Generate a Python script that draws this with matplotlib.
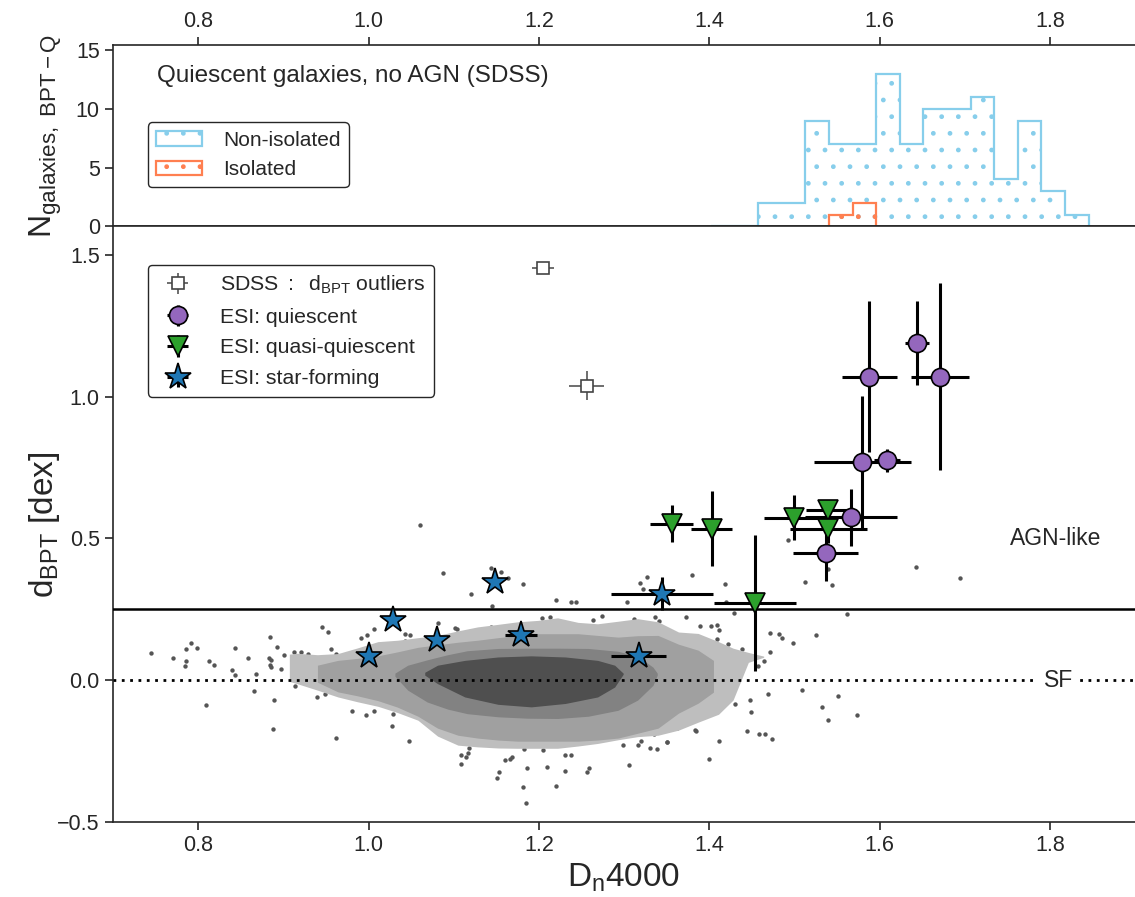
import numpy as np
import matplotlib
matplotlib.use('Agg')
import matplotlib.pyplot as plt

plt.rcParams['font.family'] = ['Liberation Sans', 'DejaVu Sans']
plt.rcParams['mathtext.fontset'] = 'custom'
plt.rcParams['mathtext.rm'] = 'Liberation Sans'
plt.rcParams['mathtext.it'] = 'Liberation Sans:italic'
plt.rcParams['mathtext.default'] = 'regular'
plt.rcParams['text.color'] = '#262626'
plt.rcParams['axes.labelcolor'] = '#262626'
plt.rcParams['xtick.color'] = '#262626'
plt.rcParams['ytick.color'] = '#262626'
plt.rcParams['axes.edgecolor'] = '#262626'

# --- histogram of quiescent SDSS galaxies (no AGN) ---
hist_edges = [1.4020, 1.4297, 1.4575, 1.4852, 1.5129, 1.5407, 1.5684, 1.5961, 1.6238,
              1.6516, 1.6793, 1.7070, 1.7348, 1.7625, 1.7902, 1.8180, 1.8457]
nonisolated_counts = [0, 0, 2, 2, 9, 7, 7, 13, 7, 10, 10, 11, 4, 9, 3, 1]
isolated_edges = [1.5407, 1.5684, 1.5961]
isolated_counts = [1, 2]

# --- ESI samples ---
q_x = [1.537, 1.567, 1.580, 1.609, 1.588, 1.644, 1.671]
q_y = [0.450, 0.575, 0.769, 0.775, 1.070, 1.188, 1.070]
q_xerr = [0.038, 0.054, 0.057, 0.015, 0.032, 0.014, 0.034]
q_yerr = [0.100, 0.100, 0.235, 0.040, 0.266, 0.148, 0.330]

qq_x = [1.356, 1.403, 1.454, 1.500, 1.540, 1.540]
qq_y = [0.552, 0.534, 0.272, 0.573, 0.601, 0.534]
qq_xerr = [0.025, 0.024, 0.048, 0.036, 0.026, 0.045]
qq_yerr = [0.065, 0.132, 0.240, 0.080, 0.030, 0.050]

sf_x = [1.001, 1.029, 1.080, 1.148, 1.179, 1.317, 1.345]
sf_y = [0.085, 0.214, 0.143, 0.345, 0.160, 0.086, 0.305]
sf_xerr = [0.005, 0.005, 0.005, 0.005, 0.019, 0.032, 0.060]
sf_yerr = [0.010, 0.010, 0.010, 0.010, 0.010, 0.010, 0.059]

# --- SDSS outliers ---
out_x = [1.205, 1.256]
out_y = [1.454, 1.039]
out_xerr = [0.013, 0.021]
out_yerr = [0.018, 0.052]

# --- SDSS individual galaxies outside the density contours ---
sdss_x = [0.744, 0.770, 0.786, 0.791, 0.799, 0.786, 0.785, 0.813, 0.818, 0.809,
          0.843, 0.840, 0.843, 0.858, 0.865, 0.868, 0.884, 0.893, 0.883, 0.885,
          0.884, 0.885, 0.897, 0.889, 0.888, 0.901, 0.913, 0.921, 0.929, 0.914,
          0.945, 0.952, 0.956, 0.962, 0.940, 0.949, 0.962, 0.991, 0.998, 1.007,
          0.981, 0.997, 1.007, 1.028, 1.029, 1.043, 1.043, 1.060, 1.087, 1.120,
          1.144, 1.156, 1.164, 1.181, 1.145, 1.144, 1.081, 1.101, 1.104, 1.049,
          1.220, 1.238, 1.244, 1.204, 1.213, 1.264, 1.274, 1.304, 1.319, 1.327,
          1.322, 1.312, 1.336, 1.341, 1.048, 1.109, 1.109, 1.115, 1.117, 1.118,
          1.151, 1.153, 1.160, 1.166, 1.168, 1.183, 1.186, 1.181, 1.185, 1.205,
          1.210, 1.220, 1.231, 1.231, 1.238, 1.256, 1.259, 1.299, 1.306, 1.316,
          1.320, 1.330, 1.339, 1.335, 1.350, 1.380, 1.419, 1.420, 1.429, 1.373,
          1.389, 1.402, 1.409, 1.411, 1.409, 1.422, 1.438, 1.464, 1.471, 1.457,
          1.471, 1.482, 1.486, 1.498, 1.526, 1.513, 1.493, 1.540, 1.544, 1.562,
          1.643, 1.695, 1.431, 1.430, 1.448, 1.449, 1.469, 1.509, 1.533, 1.551,
          1.540, 1.574, 1.444, 1.458, 1.466, 1.474, 1.412, 1.400, 1.383, 1.385,
          1.362, 1.351]
sdss_y = [0.096, 0.080, 0.109, 0.131, 0.115, 0.067, 0.049, 0.069, 0.052, -0.089,
          0.112, 0.035, 0.019, 0.080, -0.038, 0.021, 0.152, 0.117, 0.077, 0.073,
          0.052, 0.048, 0.040, -0.070, -0.173, 0.089, 0.099, 0.098, 0.094, -0.021,
          0.189, 0.171, 0.110, 0.092, -0.060, -0.050, -0.204, 0.149, 0.161, 0.182,
          -0.108, -0.123, -0.110, -0.162, -0.119, 0.163, 0.137, 0.548, 0.378, 0.304,
          0.395, 0.381, 0.360, 0.340, 0.261, 0.188, 0.203, 0.184, 0.180, 0.160,
          0.283, 0.275, 0.277, 0.221, 0.223, 0.214, 0.225, 0.277, 0.343, 0.365,
          0.320, 0.216, 0.222, 0.210, -0.215, -0.264, -0.297, -0.271, -0.256, -0.238,
          -0.345, -0.323, -0.282, -0.279, -0.270, -0.242, -0.311, -0.378, -0.433, -0.246,
          -0.305, -0.372, -0.265, -0.320, -0.264, -0.324, -0.310, -0.229, -0.298, -0.229,
          -0.216, -0.240, -0.244, -0.191, -0.219, 0.370, 0.339, 0.276, 0.238, 0.223,
          0.190, 0.190, 0.193, 0.177, 0.145, 0.127, 0.109, 0.069, 0.101, 0.049,
          0.167, 0.162, 0.148, 0.130, 0.160, 0.348, 0.493, 0.392, 0.336, 0.232,
          0.401, 0.362, -0.012, -0.085, -0.068, -0.113, -0.050, -0.035, -0.093, -0.057,
          -0.141, -0.122, -0.180, -0.190, -0.188, -0.208, -0.216, -0.279, -0.174, -0.179,
          -0.169, -0.218]

# --- density contour levels of the SDSS sample (outer to inner) ---
lvl1_x = [0.907, 0.916, 0.940, 0.964, 0.987, 1.011, 1.034, 1.058, 1.081, 1.105,
          1.128, 1.152, 1.175, 1.199, 1.222, 1.246, 1.269, 1.293, 1.316, 1.340,
          1.364, 1.387, 1.411, 1.428, 1.446, 1.464]
lvl1_hi = [0.092, 0.095, 0.090, 0.094, 0.114, 0.136, 0.141, 0.150, 0.158, 0.174,
           0.188, 0.197, 0.206, 0.211, 0.220, 0.204, 0.199, 0.208, 0.217, 0.206,
           0.170, 0.165, 0.136, 0.113, 0.098, 0.085]
lvl1_lo = [-0.004, -0.012, -0.035, -0.059, -0.076, -0.092, -0.114, -0.141, -0.197, -0.229,
           -0.235, -0.239, -0.240, -0.240, -0.240, -0.232, -0.223, -0.210, -0.199, -0.194,
           -0.176, -0.148, -0.120, -0.070, 0.063, 0.081]

lvl2_x = [0.940, 0.964, 0.987, 1.011, 1.034, 1.058, 1.081, 1.105, 1.128, 1.152,
          1.175, 1.199, 1.222, 1.246, 1.269, 1.293, 1.316, 1.340, 1.364, 1.387, 1.405]
lvl2_hi = [0.053, 0.070, 0.077, 0.086, 0.100, 0.116, 0.125, 0.134, 0.141, 0.150,
           0.158, 0.164, 0.164, 0.164, 0.158, 0.152, 0.157, 0.158, 0.127, 0.106, 0.070]
lvl2_lo = [-0.007, -0.041, -0.055, -0.072, -0.095, -0.127, -0.169, -0.194, -0.204, -0.211,
           -0.215, -0.215, -0.215, -0.215, -0.211, -0.204, -0.187, -0.169, -0.116, -0.081, -0.042]

lvl3_x = [1.031, 1.046, 1.069, 1.093, 1.116, 1.152, 1.187, 1.222, 1.258, 1.293,
          1.316, 1.334, 1.339]
lvl3_hi = [0.025, 0.053, 0.072, 0.090, 0.104, 0.112, 0.113, 0.113, 0.112, 0.102,
           0.085, 0.046, 0.025]
lvl3_lo = [0.014, -0.035, -0.077, -0.102, -0.118, -0.129, -0.134, -0.135, -0.127, -0.106,
           -0.070, -0.018, 0.018]

lvl4_x = [1.066, 1.081, 1.113, 1.152, 1.191, 1.231, 1.269, 1.289, 1.299]
lvl4_hi = [0.028, 0.053, 0.070, 0.082, 0.086, 0.082, 0.070, 0.053, 0.025]
lvl4_lo = [0.018, -0.012, -0.059, -0.085, -0.094, -0.082, -0.059, -0.024, 0.021]

level_colors = ['#bebebe', '#a0a0a0', '#828282', '#4f4f4f']

fig = plt.figure(figsize=(11.35, 8.97), dpi=100)
ax_h = fig.add_axes([0.0996, 0.7475, 0.9004, 0.2018])
ax = fig.add_axes([0.0996, 0.0836, 0.9004, 0.6639])

# histogram panel
ax_h.stairs(nonisolated_counts, hist_edges, fill=False, hatch='.', edgecolor='#87ceeb',
            linewidth=1.6, label='Non-isolated')
ax_h.stairs(isolated_counts, isolated_edges, fill=False, hatch='.', edgecolor='#ff7f50',
            linewidth=1.6, label='Isolated')
ax_h.set_xlim(0.7, 1.9)
ax_h.set_ylim(0, 15.4)
ax_h.set_yticks([0, 5, 10, 15])
ax_h.set_xticks([0.8, 1.0, 1.2, 1.4, 1.6, 1.8])
ax_h.xaxis.tick_top()
ax_h.spines['right'].set_visible(False)
ax_h.tick_params(labelsize=15.5, length=6, width=1.2)
ax_h.set_ylabel(r'$N_{galaxies,\ BPT-Q}$', fontsize=23)
ax_h.yaxis.set_label_coords(-0.048, 0.5)
ax_h.text(0.043, 0.83, 'Quiescent galaxies, no AGN (SDSS)', transform=ax_h.transAxes,
          fontsize=17.5, va='center', ha='left')
leg_h = ax_h.legend(loc='upper left', bbox_to_anchor=(0.034, 0.575), borderaxespad=0,
                    fontsize=15, frameon=True, fancybox=True, handlelength=2.2,
                    handletextpad=1.0)
leg_h.get_frame().set_edgecolor('#262626')
leg_h.get_frame().set_alpha(1)

# main panel
ax.scatter(sdss_x, sdss_y, s=10, color='#555555', linewidths=0, zorder=1)
for lx, hi, lo, c in zip([lvl1_x, lvl2_x, lvl3_x, lvl4_x],
                         [lvl1_hi, lvl2_hi, lvl3_hi, lvl4_hi],
                         [lvl1_lo, lvl2_lo, lvl3_lo, lvl4_lo], level_colors):
    ax.fill_between(lx, lo, hi, color=c, linewidth=0, zorder=2)

ax.axhline(0.25, color='black', lw=1.8, zorder=3)
ax.axhline(0.0, color='black', lw=2, ls=(0, (1, 2)), zorder=3)
ax.text(1.81, 0.0, 'SF', fontsize=16.5, ha='center', va='center', zorder=4,
        bbox=dict(facecolor='white', edgecolor='none', pad=5))
ax.text(1.807, 0.50, 'AGN-like', fontsize=16.5, ha='center', va='center')

ax.errorbar(out_x, out_y, xerr=out_xerr, yerr=out_yerr, fmt='s', mfc='white', mec='#444444',
            ms=8, mew=1.2, ecolor='#555555', elinewidth=1.2, capsize=0, zorder=5,
            label=r'$SDSS\ :\ \ d_{BPT}$ outliers')
ax.errorbar(q_x, q_y, xerr=q_xerr, yerr=q_yerr, fmt='o', mfc='#9467bd', mec='black', ms=13,
            mew=1.2, ecolor='black', elinewidth=2.2, capsize=0, zorder=6,
            label='ESI: quiescent')
ax.errorbar(qq_x, qq_y, xerr=qq_xerr, yerr=qq_yerr, fmt='v', mfc='#2ca02c', mec='black', ms=15,
            mew=1.2, ecolor='black', elinewidth=2.2, capsize=0, zorder=6,
            label='ESI: quasi-quiescent')
ax.errorbar(sf_x, sf_y, xerr=sf_xerr, yerr=sf_yerr, fmt='*', mfc='#1f77b4', mec='black', ms=20,
            mew=1.2, ecolor='black', elinewidth=2.2, capsize=0, zorder=6,
            label='ESI: star-forming')

ax.set_xlim(0.7, 1.9)
ax.set_ylim(-0.5, 1.6)
ax.set_xticks([0.8, 1.0, 1.2, 1.4, 1.6, 1.8])
ax.set_yticks([-0.5, 0.0, 0.5, 1.0, 1.5])
ax.spines['right'].set_visible(False)
ax.tick_params(labelsize=15.5, length=6, width=1.2)
ax.set_xlabel(r'$D_{n}4000$', fontsize=24)
ax.set_ylabel(r'$d_{BPT}$ [dex]', fontsize=24)
ax.yaxis.set_label_coords(-0.05, 0.5)
leg = ax.legend(loc='upper left', bbox_to_anchor=(0.034, 0.935), borderaxespad=0,
                fontsize=15.3, frameon=True, fancybox=True, labelspacing=0.55,
                handletextpad=1.0)
leg.get_frame().set_edgecolor('#262626')
leg.get_frame().set_alpha(1)

for a in (ax, ax_h):
    for s in a.spines.values():
        s.set_linewidth(1.2)

fig.savefig('out.png', dpi=100)
